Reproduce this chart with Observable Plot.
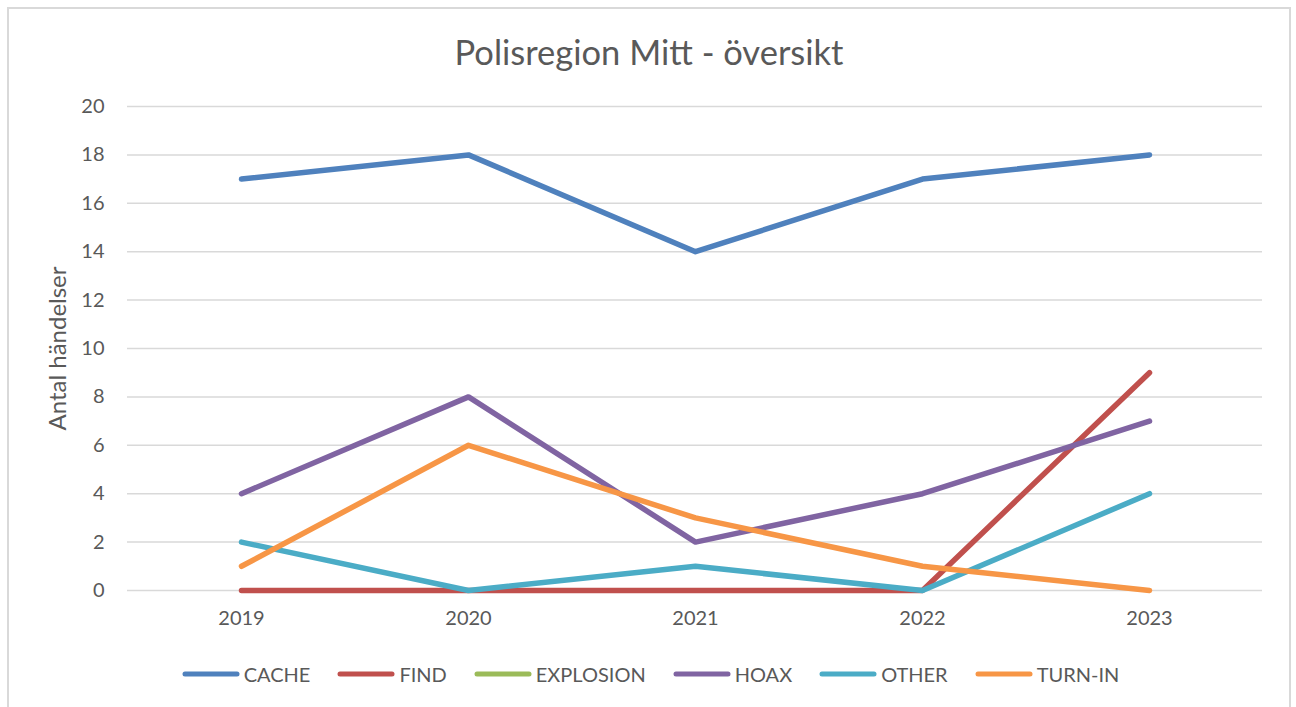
<!DOCTYPE html>
<html>
<head>
<meta charset="utf-8">
<script src="https://cdn.jsdelivr.net/npm/d3@7"></script>
<script src="https://cdn.jsdelivr.net/npm/@observablehq/plot@0.6"></script>
<style>
  body { margin: 0; background: #fff; font-family: Lato, "Open Sans", sans-serif; color: #595959; }
  #frame { position: relative; width: 1296px; height: 707px; overflow: hidden; }
  #border { position: absolute; left: 7px; top: 7px; width: 1284px; height: 740px; border: 2px solid #d9d9d9; box-sizing: border-box; }
  #title { position: absolute; left: 0; width: 1298px; top: 29px; text-align: center; font-size: 34.5px; line-height: 46px; color: #595959; }
  #chart { position: absolute; left: 0; top: 80px; }
  #legend { position: absolute; left: 0; width: 1301px; top: 660px; display: flex; justify-content: center; align-items: center; font-size: 20px; line-height: 28px; color: #595959; }
  .item { display: flex; align-items: center; margin: 0 13.5px; }
  .item svg { margin-right: 4px; }
</style>
</head>
<body>
<div id="frame">
  <div id="border"></div>
  <div id="title"></div>
  <div id="chart"></div>
  <div id="legend"></div>
</div>
<script>
const titleText = "Polisregion Mitt - översikt";
const yLabel = "Antal händelser";
const years = ["2019", "2020", "2021", "2022", "2023"];
const seriesNames = ["CACHE", "FIND", "EXPLOSION", "HOAX", "OTHER", "TURN-IN"];
const cache = [17, 18, 14, 17, 18];
const find = [0, 0, 0, 0, 9];
const explosion = [null, null, null, null, null];
const hoax = [4, 8, 2, 4, 7];
const other = [2, 0, 1, 0, 4];
const turnIn = [1, 6, 3, 1, 0];
const yTicks = [0, 2, 4, 6, 8, 10, 12, 14, 16, 18, 20];
const seriesColors = ["#4f81bd", "#c0504d", "#9bbb59", "#8064a2", "#4bacc6", "#f79646"];

const seriesValues = [cache, find, explosion, hoax, other, turnIn];
const data = [];
seriesNames.forEach((s, i) => {
  years.forEach((y, j) => data.push({series: s, year: y, value: seriesValues[i][j]}));
});

document.getElementById("title").textContent = titleText;

const chart = Plot.plot({
  width: 1296,
  height: 560,
  marginLeft: 127,
  marginRight: 34,
  marginTop: 26,
  marginBottom: 50,
  style: {fontFamily: "Lato, 'Open Sans', sans-serif", fontSize: "20px", color: "#595959", background: "transparent"},
  x: {type: "point", domain: years, padding: 0.5, label: null},
  y: {domain: [0, 20], label: null},
  color: {domain: seriesNames, range: seriesColors},
  marks: [
    Plot.gridY(yTicks, {stroke: "#d9d9d9", strokeOpacity: 1, strokeWidth: 1.5}),
    Plot.axisY(yTicks, {tickSize: 0, tickPadding: 23, fontSize: 20, fill: "#595959", label: null}),
    Plot.axisX(years, {tickSize: 0, tickPadding: 20, fontSize: 20, fill: "#595959", label: null}),
    Plot.text([yLabel], {frameAnchor: "left", text: d => d, rotate: -90, dx: -69, fontSize: 24, fill: "#595959", textAnchor: "middle"}),
    Plot.line(data, {x: "year", y: "value", z: "series", stroke: "series", strokeWidth: 5.5, strokeLinecap: "round", strokeLinejoin: "round", defined: d => d.value != null})
  ]
});
document.getElementById("chart").appendChild(chart);

const legend = document.getElementById("legend");
seriesNames.forEach((s, i) => {
  const item = document.createElement("div");
  item.className = "item";
  item.innerHTML = `<svg width="58" height="10"><line x1="3" y1="5" x2="55" y2="5" stroke="${seriesColors[i]}" stroke-width="5" stroke-linecap="round"/></svg><span></span>`;
  item.querySelector("span").textContent = s;
  legend.appendChild(item);
});
</script>
</body>
</html>
